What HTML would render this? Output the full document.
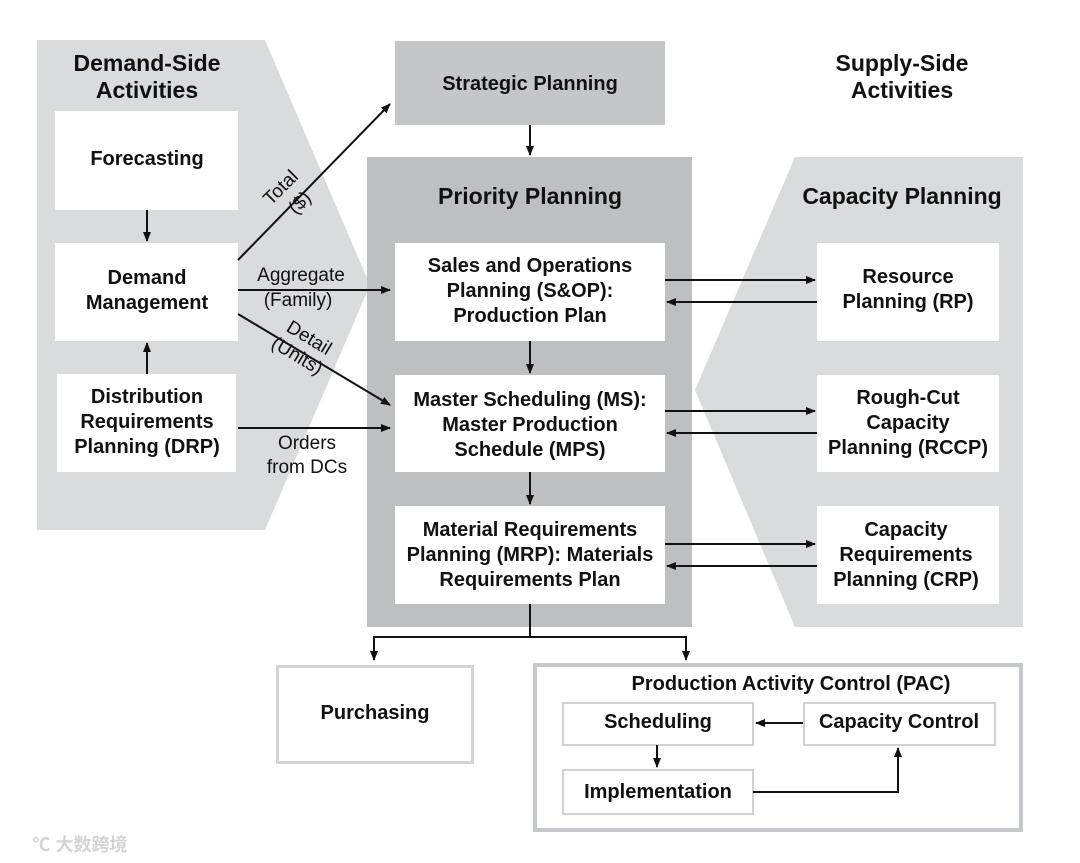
<!DOCTYPE html>
<html><head><meta charset="utf-8"><style>
html,body{margin:0;padding:0;background:#fff;}
svg{display:block;}
text{font-family:"Liberation Sans","Noto Sans CJK SC",sans-serif;font-weight:bold;fill:#111;text-anchor:middle;}
.n{font-weight:normal;}
</style></head><body>
<svg width="1080" height="863" viewBox="0 0 1080 863" xmlns="http://www.w3.org/2000/svg">
<defs><marker id="a" markerWidth="10" markerHeight="10" refX="9" refY="5" orient="auto" markerUnits="userSpaceOnUse"><path d="M0,1 L10,5 L0,9 Z" fill="#111"/></marker></defs>
<polygon points="37,40 265,40 370,285 265,530 37,530" fill="#d9dbdd"/>
<polygon points="795,157 1023,157 1023,627 795,627 695,390" fill="#d9dbdd"/>
<rect x="395" y="41" width="270" height="84" fill="#c4c6c8"/>
<rect x="367" y="157" width="325" height="470" fill="#bdbfc1"/>
<g fill="#fff">
<rect x="55" y="111" width="183" height="99"/>
<rect x="55" y="243" width="183" height="98"/>
<rect x="57" y="374" width="179" height="98"/>
<rect x="395" y="243" width="270" height="98"/>
<rect x="395" y="375" width="270" height="97"/>
<rect x="395" y="506" width="270" height="98"/>
<rect x="817" y="243" width="182" height="98"/>
<rect x="817" y="375" width="182" height="97"/>
<rect x="817" y="506" width="182" height="98"/>
</g>
<rect x="277.5" y="666.5" width="195" height="96" fill="#fff" stroke="#d3d6d8" stroke-width="3"/>
<rect x="535" y="665" width="486" height="165" fill="#fff" stroke="#c6c9cb" stroke-width="4"/>
<rect x="563" y="703" width="190" height="42" fill="#fff" stroke="#cfd2d4" stroke-width="2"/>
<rect x="804" y="703" width="191" height="42" fill="#fff" stroke="#cfd2d4" stroke-width="2"/>
<rect x="563" y="770" width="190" height="44" fill="#fff" stroke="#cfd2d4" stroke-width="2"/>
<g stroke="#111" stroke-width="2" fill="none" marker-end="url(#a)">
<line x1="147" y1="210" x2="147" y2="241"/>
<line x1="147" y1="374" x2="147" y2="343"/>
<line x1="238" y1="260" x2="390" y2="104"/>
<line x1="238" y1="290" x2="390" y2="290"/>
<line x1="238" y1="314" x2="390" y2="405"/>
<line x1="238" y1="428" x2="390" y2="428"/>
<line x1="530" y1="125" x2="530" y2="155"/>
<line x1="530" y1="341" x2="530" y2="373"/>
<line x1="530" y1="472" x2="530" y2="504"/>
<line x1="665" y1="280" x2="815" y2="280"/>
<line x1="817" y1="302" x2="667" y2="302"/>
<line x1="665" y1="411" x2="815" y2="411"/>
<line x1="817" y1="433" x2="667" y2="433"/>
<line x1="665" y1="544" x2="815" y2="544"/>
<line x1="817" y1="566" x2="667" y2="566"/>
<polyline points="530,604 530,637 374,637 374,660"/>
<polyline points="530,637 686,637 686,660"/>
<line x1="803" y1="723" x2="756" y2="723"/>
<line x1="657" y1="745" x2="657" y2="767"/>
<polyline points="753,792 898,792 898,748"/>
</g>
<g font-size="23"><text x="147" y="71">Demand-Side</text><text x="147" y="98">Activities</text>
<text x="902" y="71">Supply-Side</text><text x="902" y="98">Activities</text>
<text x="530" y="204">Priority Planning</text><text x="902" y="204">Capacity Planning</text></g>
<g font-size="20">
<text x="530" y="90">Strategic Planning</text>
<text x="147" y="165">Forecasting</text>
<text x="147" y="284">Demand</text><text x="147" y="309">Management</text>
<text x="147" y="403">Distribution</text><text x="147" y="428">Requirements</text><text x="147" y="453">Planning (DRP)</text>
<text x="530" y="272">Sales and Operations</text><text x="530" y="297">Planning (S&amp;OP):</text><text x="530" y="322">Production Plan</text>
<text x="530" y="406">Master Scheduling (MS):</text><text x="530" y="431">Master Production</text><text x="530" y="456">Schedule (MPS)</text>
<text x="530" y="536">Material Requirements</text><text x="530" y="561">Planning (MRP): Materials</text><text x="530" y="586">Requirements Plan</text>
<text x="908" y="283">Resource</text><text x="908" y="308">Planning (RP)</text>
<text x="908" y="404">Rough-Cut</text><text x="908" y="429">Capacity</text><text x="908" y="454">Planning (RCCP)</text>
<text x="906" y="536">Capacity</text><text x="906" y="561">Requirements</text><text x="906" y="586">Planning (CRP)</text>
<text x="375" y="719">Purchasing</text>
<text x="791" y="690">Production Activity Control (PAC)</text>
<text x="658" y="728">Scheduling</text>
<text x="899" y="728">Capacity Control</text>
<text x="658" y="798">Implementation</text>
</g>
<g font-size="19">
<text class="n" x="301" y="281">Aggregate</text><text class="n" x="298" y="306">(Family)</text>
<text class="n" x="307" y="449">Orders</text><text class="n" x="307" y="473">from DCs</text>
<text class="n" transform="translate(285,192) rotate(-45)">Total</text>
<text class="n" transform="translate(304,207) rotate(-45)">($)</text>
<text class="n" transform="translate(306,343) rotate(31)">Detail</text>
<text class="n" transform="translate(294,361) rotate(31)">(Units)</text>
</g>
<text x="80" y="851" font-size="18" style="fill:#d4d4d4">℃ 大数跨境</text>
</svg>
</body></html>
